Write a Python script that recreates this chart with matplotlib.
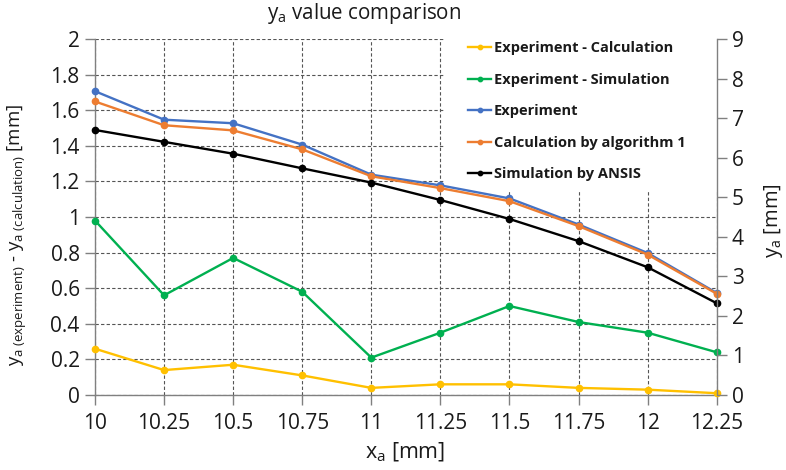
import matplotlib
matplotlib.use("Agg")
import matplotlib.pyplot as plt
from matplotlib.patches import Rectangle

plt.rcParams['font.family'] = ['Open Sans', 'DejaVu Sans']
plt.rcParams['mathtext.fontset'] = 'custom'
plt.rcParams['mathtext.rm'] = 'Open Sans'
plt.rcParams['mathtext.it'] = 'Open Sans:italic'
plt.rcParams['mathtext.bf'] = 'Open Sans:bold'

x_vals = [10, 10.25, 10.5, 10.75, 11, 11.25, 11.5, 11.75, 12, 12.25]
x_labels = ["10", "10.25", "10.5", "10.75", "11", "11.25", "11.5", "11.75", "12", "12.25"]

exp_minus_calc = [0.26, 0.14, 0.17, 0.11, 0.04, 0.06, 0.06, 0.04, 0.03, 0.01]
exp_minus_sim = [0.98, 0.56, 0.77, 0.58, 0.21, 0.35, 0.50, 0.41, 0.35, 0.24]

experiment = [7.68, 6.96, 6.87, 6.33, 5.57, 5.30, 4.97, 4.31, 3.59, 2.58]
calculation = [7.42, 6.82, 6.69, 6.21, 5.53, 5.23, 4.90, 4.27, 3.55, 2.56]
simulation = [6.70, 6.40, 6.10, 5.73, 5.37, 4.93, 4.45, 3.89, 3.23, 2.32]

left_ticks = [0, 0.2, 0.4, 0.6, 0.8, 1, 1.2, 1.4, 1.6, 1.8, 2]
left_tick_labels = ["0", "0.2", "0.4", "0.6", "0.8", "1", "1.2", "1.4", "1.6", "1.8", "2"]
right_ticks = [0, 1, 2, 3, 4, 5, 6, 7, 8, 9]

C_YEL = '#FFC000'
C_GRN = '#00B050'
C_BLU = '#4472C4'
C_ORG = '#ED7D31'
C_BLK = '#000000'
AXC = '#808080'
TXT = '#1a1a1a'

fig = plt.figure(figsize=(7.86, 4.70), dpi=100)
ax = fig.add_axes([95/786, 1-395/470, (716.7-95)/786, (395-39)/470])
ax2 = ax.twinx()

lw = 1.7
ms = 4.5
l1, = ax.plot(x_vals, exp_minus_calc, color=C_YEL, lw=lw, marker='o', ms=ms, label='Experiment - Calculation', clip_on=False, zorder=3)
l2, = ax.plot(x_vals, exp_minus_sim, color=C_GRN, lw=lw, marker='o', ms=ms, label='Experiment - Simulation', clip_on=False, zorder=3)
l3, = ax2.plot(x_vals, experiment, color=C_BLU, lw=lw, marker='o', ms=ms, label='Experiment', clip_on=False)
l4, = ax2.plot(x_vals, calculation, color=C_ORG, lw=lw, marker='o', ms=ms, label='Calculation by algorithm 1', clip_on=False)
l5, = ax2.plot(x_vals, simulation, color=C_BLK, lw=lw, marker='o', ms=ms, label='Simulation by ANSIS', clip_on=False)

ax.set_xlim(10, 12.25)
ax.set_ylim(0, 2)
ax2.set_ylim(0, 9)
ax.set_xticks(x_vals)
ax.set_xticklabels(x_labels)
ax.set_yticks(left_ticks)
ax.set_yticklabels(left_tick_labels)
ax2.set_yticks(right_ticks)

ax.grid(True, which='major', axis='both', linestyle=(0, (3, 2)), color='#555555', lw=0.8)
ax.set_axisbelow(True)

# white legend background hiding the grid
ax.add_patch(Rectangle((0.563, 0.576), 0.437, 0.424, transform=ax.transAxes,
                       facecolor='white', edgecolor='none', zorder=1))

for a in (ax, ax2):
    a.spines['top'].set_visible(False)
    for s in ('left', 'right', 'bottom'):
        a.spines[s].set_color(AXC)
        a.spines[s].set_linewidth(1.0)
    a.tick_params(colors=AXC, labelcolor=TXT, labelsize=15, length=7, width=1.0, direction='out')
ax.spines['right'].set_visible(False)
ax2.spines['left'].set_visible(False)
ax2.spines['bottom'].set_visible(False)
ax.tick_params(axis='x', pad=6)
ax.tick_params(axis='y', pad=4)
ax2.tick_params(axis='y', pad=4)

ax.set_xlabel(r'$\mathregular{x_a}$ [mm]', fontsize=15.5, color=TXT)
ax.xaxis.set_label_coords(0.499, -0.13)
ax.set_ylabel(r'$\mathregular{y_{a\ (experiment)}}$ - $\mathregular{y_{a\ (calculation)}}$ [mm]', fontsize=13.5, color=TXT)
ax.yaxis.set_label_coords(-0.106, 0.45)
ax2.set_ylabel(r'$\mathregular{y_a}$ [mm]', fontsize=14.5, color=TXT, rotation=90)
ax2.yaxis.set_label_coords(1.073, 0.49)

fig.text(364/786, 1-14/470, r'$\mathregular{y_a}$ value comparison', fontsize=14.8, ha='center', va='center', color=TXT)

leg = ax2.legend(handles=[l1, l2, l3, l4, l5], loc='upper left', bbox_to_anchor=((468-95)/621.7, 0.994),
                 frameon=False, prop={'weight': 'bold', 'size': 10.5}, handlelength=1.6, handletextpad=0.15,
                 labelspacing=1.2, borderaxespad=0.0, borderpad=0.0, markerscale=0.7)
for t in leg.get_texts():
    t.set_color(TXT)

fig.savefig('out.png', dpi=100)
